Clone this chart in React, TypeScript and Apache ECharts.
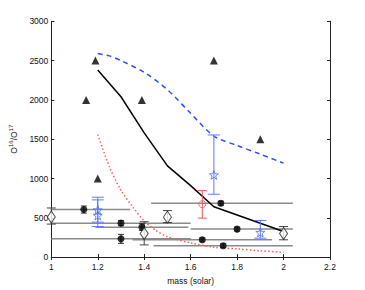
import React, { useEffect, useRef } from "react";
import * as echarts from "echarts";

// ---- data ----
const xTicks = [1, 1.2, 1.4, 1.6, 1.8, 2, 2.2];
const yTicks = [0, 500, 1000, 1500, 2000, 2500, 3000];

const triMass = [1.19, 1.15, 1.39, 1.2, 1.7, 1.9];
const triVal = [2500, 2000, 2000, 1000, 2500, 1500];

const blackLineMass = [1.2, 1.3, 1.4, 1.5, 1.6, 1.7, 2.0];
const blackLineVal = [2380, 2040, 1580, 1160, 910, 640, 325];

const blueLineMass = [1.2, 1.25, 1.3, 1.4, 1.5, 1.6, 1.7, 1.8, 1.9, 2.0];
const blueLineVal = [2590, 2560, 2500, 2350, 2130, 1830, 1540, 1420, 1310, 1195];

const redLineMass = [1.2, 1.25, 1.3, 1.35, 1.4, 1.45, 1.5, 1.6, 1.7, 1.8, 1.9, 2.0];
const redLineVal = [1560, 1150, 850, 640, 460, 340, 260, 180, 125, 105, 80, 60];

const circMass = [1.14, 1.3, 1.3, 1.39, 1.65, 1.73, 1.74, 1.8];
const circVal = [605, 432, 232, 381, 220, 686, 145, 356];
const circMassLow = [0.94, 1.0, 1.0, 1.19, 1.35, 1.43, 1.44, 1.6];
const circMassHigh = [1.34, 1.6, 1.6, 1.59, 1.95, 2.04, 2.04, 2.04];
const circErrLow = [560, 400, 175, 340, 195, 660, 120, 330];
const circErrHigh = [650, 464, 289, 425, 245, 712, 170, 382];

const diaMass = [1.0, 1.4, 1.5, 2.0];
const diaVal = [510, 300, 508, 300];
const diaLow = [420, 155, 440, 220];
const diaHigh = [625, 450, 592, 389];

const starMass = [1.2, 1.2, 1.7, 1.9];
const starVal = [600, 530, 1046, 313];
const starLow = [445, 389, 800, 241];
const starHigh = [728, 762, 1554, 465];

const redPtMass = [1.65];
const redPtVal = [673];
const redPtLow = [496];
const redPtHigh = [846];

const zip = (a: number[], b: number[]) => a.map((v, i) => [v, b[i]]);

const STAR =
  "path://M0,-10 L2.35,-3.24 L9.51,-3.09 L3.8,1.24 L5.88,8.09 L0,4 L-5.88,8.09 L-3.8,1.24 L-9.51,-3.09 L-2.35,-3.24 Z";

function vErr(name: string, xs: number[], lo: number[], hi: number[], color: string, cap: number, z: number) {
  return {
    name,
    type: "custom",
    z,
    data: xs.map((x, i) => [x, lo[i], hi[i]]),
    renderItem: (params: any, api: any) => {
      const x = api.value(0);
      const a = api.coord([x, api.value(1)]);
      const b = api.coord([x, api.value(2)]);
      const st = { stroke: color, lineWidth: 1 };
      return {
        type: "group",
        children: [
          { type: "line", shape: { x1: a[0], y1: a[1], x2: b[0], y2: b[1] }, style: st },
          { type: "line", shape: { x1: a[0] - cap, y1: a[1], x2: a[0] + cap, y2: a[1] }, style: st },
          { type: "line", shape: { x1: b[0] - cap, y1: b[1], x2: b[0] + cap, y2: b[1] }, style: st },
        ],
      };
    },
  };
}

export default function App() {
  const ref = useRef<HTMLDivElement>(null);
  useEffect(() => {
    if (!ref.current) return;
    const chart = echarts.init(ref.current, undefined, { renderer: "svg" });
    const font = "Liberation Sans, Arial, sans-serif";
    const axisCommon = {
      type: "value",
      axisLine: { show: true, lineStyle: { color: "#222", width: 1 } },
      axisTick: { show: true, inside: true, length: 3, lineStyle: { color: "#222" } },
      splitLine: { show: false },
    };
    const option: any = {
      animation: false,
      backgroundColor: "#fff",
      grid: { left: 47.7, right: 35, top: 21.3, bottom: 32.7 },
      xAxis: [
        {
          ...axisCommon,
          min: xTicks[0],
          max: xTicks[xTicks.length - 1],
          interval: 0.2,
          position: "bottom",
          axisLabel: {
            color: "#111",
            fontSize: 8.5,
            fontFamily: font,
            margin: 5,
            formatter: (v: number) => String(+v.toFixed(1)),
          },
          name: "mass (solar)",
          nameLocation: "middle",
          nameGap: 15,
          nameTextStyle: { color: "#111", fontSize: 8.5, fontFamily: font },
        },
        {
          ...axisCommon,
          min: xTicks[0],
          max: xTicks[xTicks.length - 1],
          interval: 0.2,
          position: "top",
          axisLabel: { show: false },
        },
      ],
      yAxis: [
        {
          ...axisCommon,
          min: yTicks[0],
          max: yTicks[yTicks.length - 1],
          interval: 500,
          position: "left",
          axisLabel: {
            color: "#111",
            fontSize: 8.5,
            fontFamily: font,
            margin: 3,
            formatter: (v: number) => String(v),
          },
          name: "O{sup|16}/O{sup|17}",
          nameLocation: "middle",
          nameRotate: 90,
          nameGap: 25,
          nameTextStyle: {
            color: "#111",
            fontSize: 8.5,
            fontFamily: font,
            rich: {
              sup: { fontSize: 6, fontFamily: font, color: "#111", padding: [0, 0, 6, 0] },
            },
          },
        },
        {
          ...axisCommon,
          min: yTicks[0],
          max: yTicks[yTicks.length - 1],
          interval: 500,
          position: "right",
          axisLabel: { show: false },
        },
      ],
      series: [
        {
          name: "mass ranges",
          type: "custom",
          z: 1,
          data: circVal.map((v, i) => [circMassLow[i], circMassHigh[i], v]),
          renderItem: (params: any, api: any) => {
            const cs = params.coordSys;
            const a = api.coord([api.value(0), api.value(2)]);
            const b = api.coord([api.value(1), api.value(2)]);
            const x1 = Math.max(a[0], cs.x);
            const x2 = Math.min(b[0], cs.x + cs.width);
            return {
              type: "line",
              shape: { x1, y1: a[1], x2, y2: b[1] },
              style: { stroke: "#8a8a8a", lineWidth: 1.5 },
            };
          },
        },
        {
          name: "model solid",
          type: "line",
          z: 2,
          data: zip(blackLineMass, blackLineVal),
          showSymbol: false,
          lineStyle: { color: "#000", width: 1.5 },
        },
        {
          name: "model dashed",
          type: "line",
          z: 2,
          data: zip(blueLineMass, blueLineVal),
          showSymbol: false,
          smooth: 0.3,
          lineStyle: { color: "#2f4cff", width: 1.5, type: [5, 4] },
        },
        {
          name: "model dotted",
          type: "line",
          z: 2,
          data: zip(redLineMass, redLineVal),
          showSymbol: false,
          smooth: 0.3,
          lineStyle: { color: "#ff5a5a", width: 1.5, type: [1.5, 2.2] },
        },
        vErr("circle err", circMass, circErrLow, circErrHigh, "#333", 3, 3),
        vErr("diamond err", diaMass, diaLow, diaHigh, "#444", 4.5, 3),
        vErr("star err", starMass, starLow, starHigh, "#5b7cff", 6, 3),
        vErr("red err", redPtMass, redPtLow, redPtHigh, "#ff5050", 4.5, 3),
        {
          name: "triangles",
          type: "scatter",
          z: 4,
          data: zip(triMass, triVal),
          symbol: "triangle",
          symbolSize: 8,
          itemStyle: { color: "#000" },
        },
        {
          name: "circles",
          type: "scatter",
          z: 4,
          data: zip(circMass, circVal),
          symbol: "circle",
          symbolSize: 7,
          itemStyle: { color: "#000" },
        },
        {
          name: "diamonds",
          type: "scatter",
          z: 4,
          data: zip(diaMass, diaVal),
          symbol: "diamond",
          symbolSize: [8, 12],
          itemStyle: { color: "#fff", borderColor: "#222", borderWidth: 1 },
        },
        {
          name: "stars",
          type: "scatter",
          z: 4,
          data: zip(starMass, starVal),
          symbol: STAR,
          symbolSize: 9,
          itemStyle: { color: "rgba(255,255,255,0)", borderColor: "#4a6bff", borderWidth: 1 },
        },
        {
          name: "red point",
          type: "scatter",
          z: 4,
          data: zip(redPtMass, redPtVal),
          symbol: "circle",
          symbolSize: 7,
          itemStyle: { color: "rgba(255,255,255,0)", borderColor: "#ff4d4d", borderWidth: 1 },
        },
      ],
    };
    chart.setOption(option);
    return () => chart.dispose();
  }, []);
  return <div ref={ref} style={{ width: 365, height: 290, position: "absolute", left: 0, top: 0 }} />;
}
